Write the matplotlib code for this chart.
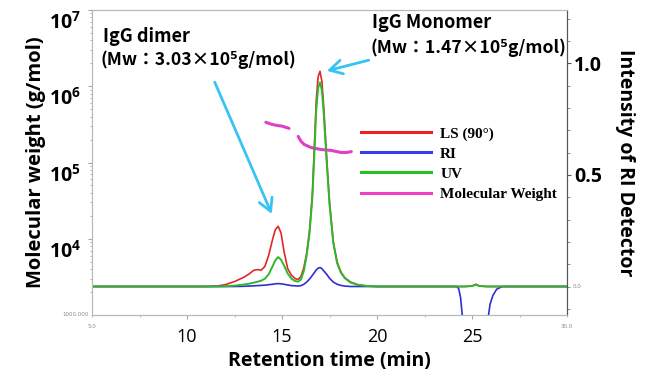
import matplotlib
matplotlib.use("Agg")
import matplotlib.pyplot as plt
import matplotlib.transforms as mtransforms
from matplotlib.lines import Line2D
from matplotlib.ticker import MultipleLocator, LogLocator, NullFormatter, FixedLocator

plt.rcParams['mathtext.fontset'] = 'custom'
plt.rcParams['mathtext.rm'] = 'Open Sans'
plt.rcParams['mathtext.bf'] = 'Open Sans:bold'

# retention time grid (min) for the detector traces
t = [5.0, 11.0, 11.6, 12.0, 12.5, 13.0, 13.3, 13.5, 13.7, 13.9, 14.1, 14.3, 14.5, 14.65,
     14.8, 14.95, 15.1, 15.3, 15.5, 15.7, 15.85, 16.0, 16.15, 16.3, 16.45, 16.6, 16.7,
     16.8, 16.9, 17.0, 17.1, 17.2, 17.35, 17.5, 17.7, 17.9, 18.1, 18.3, 18.6, 19.0,
     19.5, 20.0, 24.2, 24.3, 24.4, 24.5, 24.6, 25.0, 25.2, 25.4, 25.8, 25.85, 25.95,
     26.1, 26.3, 26.6, 30.0]

ls90 = [0, 0, 0.002, 0.008, 0.022, 0.042, 0.058, 0.072, 0.076, 0.073, 0.09, 0.14, 0.21, 0.255,
        0.27, 0.24, 0.16, 0.08, 0.05, 0.035, 0.032, 0.045, 0.085, 0.15, 0.25, 0.42, 0.62,
        0.83, 0.94, 0.965, 0.92, 0.8, 0.58, 0.38, 0.2, 0.11, 0.065, 0.04, 0.02, 0.008,
        0.002, 0, 0, 0, 0, 0, 0, 0.002, 0.01, 0.002, 0, 0, 0,
        0, 0, 0, 0]

ri = [0, 0, 0, 0, 0, 0.001, 0.002, 0.003, 0.004, 0.005, 0.006, 0.008, 0.01, 0.012,
      0.013, 0.012, 0.01, 0.007, 0.004, 0.003, 0.002, 0.004, 0.01, 0.02, 0.033, 0.05, 0.062,
      0.074, 0.082, 0.085, 0.08, 0.07, 0.055, 0.037, 0.02, 0.01, 0.005, 0.002, 0, 0,
      0, 0, 0, -0.01, -0.05, -0.14, -0.4, -0.4, -0.4, -0.4, -0.4, -0.14, -0.08,
      -0.04, -0.012, 0, 0]

uv = [0, 0, 0, 0.001, 0.004, 0.009, 0.013, 0.017, 0.021, 0.026, 0.035, 0.055, 0.09, 0.118,
      0.132, 0.12, 0.095, 0.058, 0.035, 0.024, 0.022, 0.032, 0.07, 0.14, 0.24, 0.40, 0.59,
      0.79, 0.89, 0.915, 0.88, 0.77, 0.56, 0.37, 0.195, 0.105, 0.062, 0.038, 0.018, 0.007,
      0.002, 0, 0, 0, 0, 0, 0, 0.002, 0.008, 0.002, 0, 0, 0,
      0, 0, 0, 0]

# molecular weight (g/mol) across the dimer and monomer peaks
mw_t1 = [14.15, 14.4, 14.68, 15.0, 15.37]
mw1 = [3.37e5, 3.2e5, 3.08e5, 3.0e5, 2.8e5]
mw_t2 = [15.85, 16.0, 16.16, 16.53, 17.06, 17.59, 18.12, 18.39, 18.65]
mw2 = [2.2e5, 1.9e5, 1.73e5, 1.57e5, 1.48e5, 1.44e5, 1.35e5, 1.35e5, 1.39e5]

x_ticks = [10, 15, 20, 25]
left_ticks = [1e4, 1e5, 1e6, 1e7]
left_labels = [r'$\mathbf{10^{4}}$', r'$\mathbf{10^{5}}$', r'$\mathbf{10^{6}}$', r'$\mathbf{10^{7}}$']
right_ticks = [0.5, 1.0]
right_labels = ['0.5', '1.0']
legend_labels = ['LS (90°)', 'RI', 'UV', 'Molecular Weight']

c_red = '#e02828'
c_blue = '#3030d0'
c_green = '#2eb82e'
c_mag = '#e040c8'
c_arrow = '#38c4f2'
gray = '#a8a8a8'

fig = plt.figure(figsize=(6.54, 3.78), dpi=100)
ax = fig.add_axes([92/654, 1 - 315/378, (567-92)/654, (315-10)/378])
ax2 = ax.twinx()

# left: molecular weight, log scale
ax.set_yscale('log')
ax.set_ylim(1e3, 1e7)
ax.set_xlim(5, 30)
ax.plot(mw_t1, mw1, color=c_mag, lw=2.2, solid_capstyle='round')
ax.plot(mw_t2, mw2, color=c_mag, lw=2.2, solid_capstyle='round')

ax.yaxis.set_major_locator(FixedLocator(left_ticks))
ax.set_yticklabels(left_labels, fontsize=14)
ax.yaxis.set_minor_locator(LogLocator(base=10, subs=range(2, 10)))
ax.yaxis.set_minor_formatter(NullFormatter())
ax.tick_params(axis='y', which='major', length=3, color=gray, pad=5)
ax.tick_params(axis='y', which='minor', length=1.5, color=gray)
# the pasted labels sit a little below their ticks
shift = mtransforms.ScaledTranslation(0, -10/100, fig.dpi_scale_trans)
for lab in ax.get_yticklabels():
    lab.set_transform(lab.get_transform() + shift)

ax.set_xticks(x_ticks)
ax.set_xticklabels([str(v) for v in x_ticks], fontsize=13, family='Open Sans')
ax.xaxis.set_minor_locator(MultipleLocator(2.5))
ax.tick_params(axis='x', which='major', length=3, color=gray, pad=6)
ax.tick_params(axis='x', which='minor', length=1.5, color=gray)

# right: detector intensity
ax2.set_ylim(-0.1278, 1.2399)
ax2.plot(t, ls90, color=c_red, lw=1.2)
ax2.plot(t, ri, color=c_blue, lw=1.2)
ax2.plot(t, uv, color=c_green, lw=1.4)
ax2.set_yticks(right_ticks)
ax2.set_yticklabels(right_labels, fontsize=14, fontweight='bold', family='Open Sans')
ax2.yaxis.set_minor_locator(MultipleLocator(0.1))
ax2.tick_params(axis='y', which='major', length=3, color='#555555', pad=2)
ax2.tick_params(axis='y', which='minor', length=2, color='#777777')

for a in (ax, ax2):
    for s in ('left', 'top', 'bottom'):
        a.spines[s].set_color('#b8b8b8')
    a.spines['right'].set_color('#555555')

# tiny original axis labels
small = dict(fontsize=4, color='#888888')
ax.text(5.0, -0.03, '5.0', transform=ax.get_xaxis_transform(), ha='center', va='top', **small)
ax.text(30.0, -0.03, '30.0', transform=ax.get_xaxis_transform(), ha='center', va='top', **small)
ax.text(-0.008, 1e3, '1000.000', transform=ax.get_yaxis_transform(), ha='right', va='center', **small)
ax2.text(1.012, 0.0, '0.0', transform=ax2.get_yaxis_transform(), ha='left', va='center', **small)

ax.set_xlabel('Retention time (min)', fontsize=14, fontweight='bold', family='Open Sans', labelpad=4)
ax.set_ylabel('Molecular weight (g/mol)', fontsize=14.5, fontweight='bold', family='Open Sans', labelpad=2)
ax2.set_ylabel('Intensity of RI Detector', fontsize=14, fontweight='bold', family='Open Sans',
               rotation=270, labelpad=24)

# legend
handles = [Line2D([], [], color='#f02020', lw=2.2),
           Line2D([], [], color='#3a3af0', lw=2.2),
           Line2D([], [], color='#22c022', lw=2.2),
           Line2D([], [], color='#f040c8', lw=2.2)]
ax2.legend(handles, legend_labels, loc='upper left', bbox_to_anchor=((347-92)/475, 1 - (113-10)/305),
           frameon=False, handlelength=4.6, handletextpad=0.6, labelspacing=0.42,
           prop={'family': 'Liberation Serif', 'weight': 'bold', 'size': 11})

# annotations
jp = ['Noto Sans CJK JP', 'DejaVu Sans']
ax2.annotate('', xy=(14.52, 0.314), xytext=(11.4, 0.928),
             arrowprops=dict(arrowstyle='->,head_length=0.9,head_width=0.5', color=c_arrow, lw=2))
ax2.annotate('', xy=(17.22, 0.964), xytext=(19.71, 1.018),
             arrowprops=dict(arrowstyle='->,head_length=0.9,head_width=0.5', color=c_arrow, lw=2))
fig.text(103/654, 1 - 36/378, 'IgG dimer', family=jp, fontsize=13, fontweight='bold', va='center')
fig.text(101/654, 1 - 60/378, '(Mw：3.03×10⁵g/mol)', family=jp, fontsize=12.7, fontweight='bold', va='center')
fig.text(372/654, 1 - 23/378, 'IgG Monomer', family=jp, fontsize=13, fontweight='bold', va='center')
fig.text(370/654, 1 - 48/378, '(Mw：1.47×10⁵g/mol)', family=jp, fontsize=12.7, fontweight='bold', va='center')

fig.savefig('out.png', dpi=100)
